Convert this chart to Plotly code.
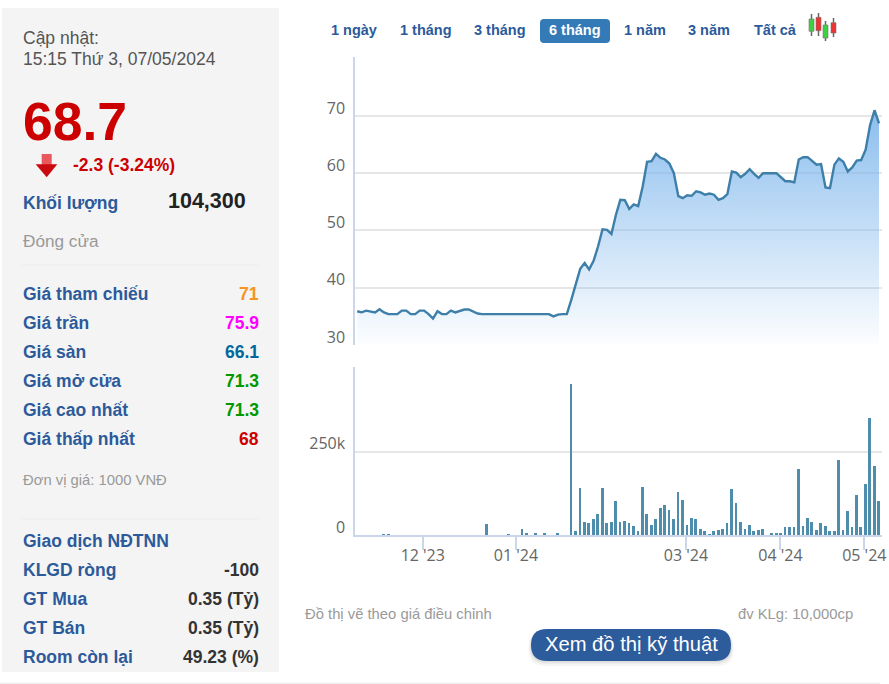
import plotly.graph_objects as go

# ---------- data ----------
price = [
    35.9, 35.7, 36.0, 35.9, 35.7, 36.25, 35.7, 35.4, 35.4, 35.4,
    36.0, 36.0, 35.4, 35.4, 36.0, 36.0, 35.4, 34.6, 35.9, 35.4,
    35.4, 36.0, 35.7, 35.9, 36.2, 36.2, 35.9, 35.5, 35.4, 35.4,
    35.4, 35.4, 35.4, 35.4, 35.4, 35.4, 35.4, 35.4, 35.4, 35.4,
    35.4, 35.4, 35.4, 35.4, 35.0, 35.3, 35.4, 35.4, 37.9, 40.55,
    43.3, 44.3, 43.2, 44.7, 47.2, 50.2, 50.1, 49.4, 52.7, 55.35,
    55.3, 53.75, 54.55, 54.25, 57.65, 62.0, 62.1, 63.4, 62.7, 62.4,
    61.7, 60.0, 56.0, 55.65, 56.15, 56.05, 56.85, 56.65, 56.25, 56.45,
    56.25, 55.35, 55.65, 56.35, 60.3, 60.1, 59.3, 59.9, 60.7, 59.9,
    59.2, 60.0, 60.0, 60.0, 60.0, 59.3, 58.6, 58.6, 58.4, 62.4,
    62.8, 62.8, 62.1, 61.5, 61.6, 57.5, 57.4, 61.5, 62.6, 62.0,
    60.3, 61.0, 62.2, 62.3, 64.1, 68.4, 71.0, 68.7,
]
volume_k = [
    0, 0, 0, 0, 0, 0, 5, 5, 0, 0,
    0, 0, 0, 0, 0, 0, 0, 0, 0, 0,
    0, 0, 0, 0, 0, 0, 0, 0, 0, 34,
    0, 0, 0, 0, 5, 0, 0, 21, 9, 0,
    9, 0, 9, 0, 0, 9, 0, 0, 453, 13,
    142, 41, 37, 49, 66, 142, 37, 41, 102, 41,
    45, 37, 29, 13, 146, 66, 33, 49, 82, 90,
    78, 49, 130, 106, 33, 53, 49, 21, 13, 5,
    13, 17, 21, 37, 138, 98, 41, 21, 33, 13,
    17, 21, 0, 9, 9, 9, 25, 25, 25, 199,
    29, 53, 41, 17, 37, 29, 13, 13, 227, 17,
    74, 25, 122, 25, 154, 353, 207, 102,
]
sessions = list(range(len(price)))
month_ticks = [14.7, 35.6, 73.7, 94.9, 113.7]
month_labels = ["12 '23", "01 '24", "03 '24", "04 '24", "05 '24"]
price_ticks = [30, 40, 50, 60, 70, 80.3]
price_tick_text = ["30", "40", "50", "60", "70", ""]
volume_ticks = [0, 250, 504]
volume_tick_text = ["0", "250k", ""]

range_buttons = ["1 ngày", "1 tháng", "3 tháng", "6 tháng", "1 năm", "3 năm", "Tất cả"]
price_rows = [
    ("Giá tham chiếu", "71", "#f7931e"),
    ("Giá trần", "75.9", "#ff00ff"),
    ("Giá sàn", "66.1", "#00689d"),
    ("Giá mở cửa", "71.3", "#009900"),
    ("Giá cao nhất", "71.3", "#009900"),
    ("Giá thấp nhất", "68", "#cc0000"),
]
foreign_rows = [
    ("Giao dịch NĐTNN", ""),
    ("KLGD ròng", "-100"),
    ("GT Mua", "0.35 (Tỷ)"),
    ("GT Bán", "0.35 (Tỷ)"),
    ("Room còn lại", "49.23 (%)"),
]

# ---------- page helpers ----------
W, H = 889, 684
SANS = "Liberation Sans"
AXIS_FONT = dict(family="Open Sans", size=16, color="#666666")
BLUE = "#2c5a9a"


def fx(x):
    return x / W


def fy(y):
    return 1 - y / H


annotations = []
shapes = []


def text(x, y, s, size, color, bold=False, anchor="left"):
    annotations.append(dict(
        x=fx(x), y=fy(y), xref="paper", yref="paper", text=f"<b>{s}</b>" if bold else s,
        showarrow=False, xanchor=anchor, yanchor="middle", xshift=0, yshift=0,
        font=dict(family=SANS, size=size, color=color), borderpad=0, borderwidth=0,
    ))


def rect(x0, y0, x1, y1, fill, layer="below"):
    shapes.append(dict(type="rect", xref="paper", yref="paper", x0=fx(x0), x1=fx(x1),
                       y0=fy(y0), y1=fy(y1), fillcolor=fill, line_width=0, layer=layer))


def hline(x0, x1, y, color="#ececec", width=1):
    shapes.append(dict(type="line", xref="paper", yref="paper", x0=fx(x0), x1=fx(x1),
                       y0=fy(y), y1=fy(y), line=dict(color=color, width=width), layer="below"))


def rounded(x0, y0, x1, y1, r, fill):
    p = (f"M {fx(x0 + r)} {fy(y0)} L {fx(x1 - r)} {fy(y0)} Q {fx(x1)} {fy(y0)} {fx(x1)} {fy(y0 + r)} "
         f"L {fx(x1)} {fy(y1 - r)} Q {fx(x1)} {fy(y1)} {fx(x1 - r)} {fy(y1)} "
         f"L {fx(x0 + r)} {fy(y1)} Q {fx(x0)} {fy(y1)} {fx(x0)} {fy(y1 - r)} "
         f"L {fx(x0)} {fy(y0 + r)} Q {fx(x0)} {fy(y0)} {fx(x0 + r)} {fy(y0)} Z")
    shapes.append(dict(type="path", xref="paper", yref="paper", path=p, fillcolor=fill,
                       line_width=0, layer="below"))


# ---------- left panel ----------
rect(2, 8, 279, 672, "#f4f4f4")
text(23, 38, "Cập nhật:", 17.5, "#555555")
text(23, 59, "15:15 Thứ 3, 07/05/2024", 17.5, "#555555")
text(23, 121.5, "68.7", 53.5, "#cc0000", bold=True)
text(73, 165, "-2.3 (-3.24%)", 17.5, "#cc0000", bold=True)
# arrow
rect(41.7, 154, 51.7, 165, "#e9585c")
shapes.append(dict(type="path", xref="paper", yref="paper", fillcolor="#c90a0e", line_width=0,
                   path=f"M {fx(35.7)} {fy(164.3)} L {fx(57.3)} {fy(164.3)} L {fx(46.7)} {fy(177.3)} Z"))
text(23, 203, "Khối lượng", 17.5, BLUE, bold=True)
text(245.5, 201, "104,300", 21.5, "#222222", bold=True, anchor="right")
text(23, 241, "Đóng cửa", 17.2, "#999999")
hline(22, 258, 265)
for i, (name, val, col) in enumerate(price_rows):
    y = 293.7 + 29 * i
    text(23, y, name, 17.5, BLUE, bold=True)
    text(258.5, y, val, 17.5, col, bold=True, anchor="right")
text(23, 480, "Đơn vị giá: 1000 VNĐ", 14.8, "#999999")
hline(22, 258, 519)
for i, (name, val) in enumerate(foreign_rows):
    y = 541 + 29 * i
    text(23, y, name, 17.5, BLUE, bold=True)
    if val:
        text(258.5, y, val, 17.5, "#333333", bold=True, anchor="right")

# ---------- range buttons ----------
rounded(540, 19, 610, 43, 4, "#337ab7")
for label, cx in zip(range_buttons, [354, 425.5, 500, 575, 645, 709, 775]):
    col = "#ffffff" if label == "6 tháng" else BLUE
    text(cx, 30, label, 14.5, col, bold=True, anchor="center")
# candle icon
for (x0, x1, yb0, yb1, yw0, yw1, col) in [
    (809, 814, 19, 31.3, 14, 36, "#3fd03f"),
    (816, 821, 17.3, 30.7, 13, 36, "#ee3333"),
    (823, 828, 25, 38, 21, 41, "#3fd03f"),
    (831, 836, 22.7, 33, 18, 37, "#ee3333"),
]:
    mid = (x0 + x1) / 2
    shapes.append(dict(type="line", xref="paper", yref="paper", x0=fx(mid), x1=fx(mid),
                       y0=fy(yw0), y1=fy(yw1), line=dict(color="#666666", width=1.5)))
    shapes.append(dict(type="rect", xref="paper", yref="paper", x0=fx(x0), x1=fx(x1), y0=fy(yb0),
                       y1=fy(yb1), fillcolor=col, line=dict(color="#777777", width=0.6)))

# ---------- footer ----------
text(305, 614, "Đồ thị vẽ theo giá điều chỉnh", 14.8, "#9a9a9a")
text(853, 614, "đv KLg: 10,000cp", 14.8, "#9a9a9a", anchor="right")
for grow, col in [(5, "#f6f6f6"), (3, "#ececec"), (1.5, "#dddddd")]:
    rounded(531 - grow / 2, 631, 731 + grow / 2, 661 + grow, 16, col)
rounded(531, 629, 731, 661, 16, "#2d5c9c")
text(631, 644, "Xem đồ thị kỹ thuật", 20.2, "#ffffff", anchor="center")
hline(0, 880, 683.5, "#eeeeee", 1.5)

# ---------- traces ----------
fig = go.Figure()
fig.add_trace(go.Scatter(
    x=sessions, y=price, mode="lines", xaxis="x", yaxis="y",
    line=dict(color="#3d7fa9", width=2.4, shape="linear"),
    fill="tozeroy",
    fillgradient=dict(type="vertical", start=30, stop=71,
                      colorscale=[[0, "rgba(124,181,236,0.02)"], [1, "rgba(124,181,236,0.88)"]]),
    hoverinfo="skip", showlegend=False,
))
fig.add_trace(go.Bar(
    x=sessions, y=volume_k, xaxis="x2", yaxis="y2", width=0.62,
    marker=dict(color="#4f8dad", line_width=0),
    hoverinfo="skip", showlegend=False,
))

x_range = [-0.43, 117.67]
x_domain = [fx(355.3), fx(882)]
GRID = "#e6e6e6"
AXIS = "#ccd6eb"
fig.update_layout(
    width=W, height=H, autosize=False,
    margin=dict(l=0, r=0, t=0, b=0),
    paper_bgcolor="#ffffff", plot_bgcolor="#ffffff",
    font=dict(family=SANS),
    annotations=annotations, shapes=shapes, bargap=0,
    xaxis=dict(domain=x_domain, range=x_range, anchor="y", showticklabels=False,
               showgrid=False, zeroline=False, ticks="", automargin=False),
    yaxis=dict(domain=[fy(345), fy(57)], range=[30, 80.3], anchor="x", tickmode="array",
               tickvals=price_ticks, ticktext=price_tick_text, tickfont=AXIS_FONT, ticks="",
               ticklabelshift=-8, ticklabelstandoff=5, showgrid=True, gridcolor=GRID, gridwidth=1.5,
               zeroline=False, showline=True, linecolor=AXIS, linewidth=2, automargin=False),
    xaxis2=dict(domain=x_domain, range=x_range, anchor="y2", tickmode="array",
                tickvals=month_ticks, ticktext=month_labels, tickfont=AXIS_FONT, ticks="outside",
                ticklen=13, tickcolor=AXIS, tickwidth=1.5, ticklabelstandoff=-8, showgrid=False,
                zeroline=False, showline=True, linecolor=AXIS, linewidth=1.5, automargin=False),
    yaxis2=dict(domain=[fy(535.3), fy(366.7)], range=[0, 504], anchor="x2", tickmode="array",
                tickvals=volume_ticks, ticktext=volume_tick_text, tickfont=AXIS_FONT, ticks="",
                ticklabelshift=-8, ticklabelstandoff=5, showgrid=True, gridcolor=GRID, gridwidth=1.5,
                zeroline=False, showline=True, linecolor=AXIS, linewidth=2, automargin=False),
)

fig.write_html("out.html", config={"displayModeBar": False},
               post_script="document.body.style.margin='0';document.body.style.overflow='hidden';")
